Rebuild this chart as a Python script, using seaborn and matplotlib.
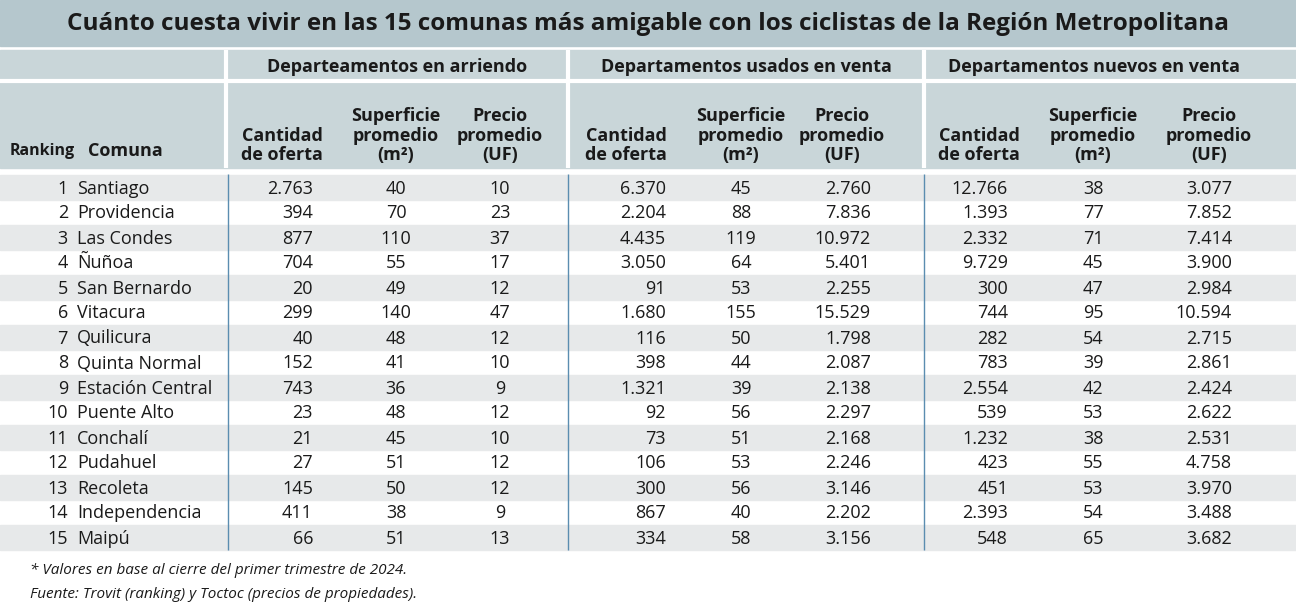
import seaborn as sns
import matplotlib.pyplot as plt
import pandas as pd

comunas = pd.DataFrame({
    'Ranking': list(range(1, 16)),
    'Comuna': ['Santiago', 'Providencia', 'Las Condes', 'Ñuñoa', 'San Bernardo', 'Vitacura', 'Quilicura',
               'Quinta Normal', 'Estación Central', 'Puente Alto', 'Conchalí', 'Pudahuel', 'Recoleta',
               'Independencia', 'Maipú'],
    'Arr cantidad': ['2.763', '394', '877', '704', '20', '299', '40', '152', '743', '23', '21', '27', '145', '411', '66'],
    'Arr superficie': [40, 70, 110, 55, 49, 140, 48, 41, 36, 48, 45, 51, 50, 38, 51],
    'Arr precio': [10, 23, 37, 17, 12, 47, 12, 10, 9, 12, 10, 12, 12, 9, 13],
    'Usa cantidad': ['6.370', '2.204', '4.435', '3.050', '91', '1.680', '116', '398', '1.321', '92', '73', '106', '300', '867', '334'],
    'Usa superficie': [45, 88, 119, 64, 53, 155, 50, 44, 39, 56, 51, 53, 56, 40, 58],
    'Usa precio': ['2.760', '7.836', '10.972', '5.401', '2.255', '15.529', '1.798', '2.087', '2.138', '2.297',
                   '2.168', '2.246', '3.146', '2.202', '3.156'],
    'Nue cantidad': ['12.766', '1.393', '2.332', '9.729', '300', '744', '282', '783', '2.554', '539', '1.232',
                     '423', '451', '2.393', '548'],
    'Nue superficie': [38, 77, 71, 45, 47, 95, 54, 39, 42, 53, 38, 55, 53, 54, 65],
    'Nue precio': ['3.077', '7.852', '7.414', '3.900', '2.984', '10.594', '2.715', '2.861', '2.424', '2.622',
                   '2.531', '4.758', '3.970', '3.488', '3.682'],
})

# columna: (x, alineación)
columnas = {
    'Ranking': (68, 'right'), 'Comuna': (77, 'left'),
    'Arr cantidad': (313, 'right'), 'Arr superficie': (396, 'center'), 'Arr precio': (500, 'center'),
    'Usa cantidad': (666, 'right'), 'Usa superficie': (741, 'center'), 'Usa precio': (871, 'right'),
    'Nue cantidad': (1008, 'right'), 'Nue superficie': (1093, 'center'), 'Nue precio': (1232, 'right'),
}

sns.set_style('white')
plt.rcParams['font.family'] = ['Open Sans', 'DejaVu Sans']

fig = plt.figure(figsize=(12.96, 6.14), dpi=100)
eje = fig.add_axes([0, 0, 1, 1])
eje.set_xlim(0, 1296)
eje.set_ylim(614, 0)
eje.axis('off')

# Bandas de fondo
eje.add_patch(plt.Rectangle((0, 0), 1296, 46, color='#b5c7cd'))
eje.add_patch(plt.Rectangle((0, 50), 1296, 118, color='#c9d6d9'))
eje.hlines(81, 0, 1296, color='white', lw=3)
eje.vlines([226, 568, 924], 50, 168, color='white', lw=3)
eje.text(648, 24, 'Cuánto cuesta vivir en las 15 comunas más amigable con los ciclistas de la Región Metropolitana',
         ha='center', va='center', fontsize=17.5, fontweight='bold', color='#1a1a1a')

grupos = [('Departeamentos en arriendo', 397), ('Departamentos usados en venta', 746),
          ('Departamentos nuevos en venta', 1094)]
for texto, x in grupos:
    eje.text(x, 67, texto, ha='center', va='center', fontsize=13, fontweight='bold', color='#1a1a1a')

encabezados = [('Cantidad\nde oferta', [282, 626, 979]), ('Superficie\npromedio\n(m²)', [396, 741, 1093]),
               ('Precio\npromedio\n(UF)', [500, 842, 1209])]
for texto, xs in encabezados:
    for x in xs:
        eje.text(x, 164, texto, ha='center', va='bottom', fontsize=13, fontweight='bold',
                 color='#1a1a1a', linespacing=1.1, multialignment='center')
eje.text(10, 151, 'Ranking', ha='left', va='center', fontsize=11.5, fontweight='bold', color='#1a1a1a')
eje.text(88, 151, 'Comuna', ha='left', va='center', fontsize=13, fontweight='bold', color='#1a1a1a')

# Filas de datos
for i, fila in comunas.iterrows():
    y = 187 + 25 * i
    if i % 2 == 0:
        eje.add_patch(plt.Rectangle((0, y - 12.5), 1296, 25, color='#e7e9ea'))
    for col, (x, ha) in columnas.items():
        eje.text(x, y + 1.5, str(fila[col]), ha=ha, va='center', fontsize=13, color='#1a1a1a')
eje.vlines([228, 568, 924], 174, 550, color='#5b8db0', lw=1)

eje.text(30, 571, '* Valores en base al cierre del primer trimestre de 2024.', ha='left', va='center',
         fontsize=11, style='italic', color='#1a1a1a')
eje.text(30, 595, 'Fuente: Trovit (ranking) y Toctoc (precios de propiedades).', ha='left', va='center',
         fontsize=11, style='italic', color='#1a1a1a')

fig.savefig('out.png', dpi=100)
